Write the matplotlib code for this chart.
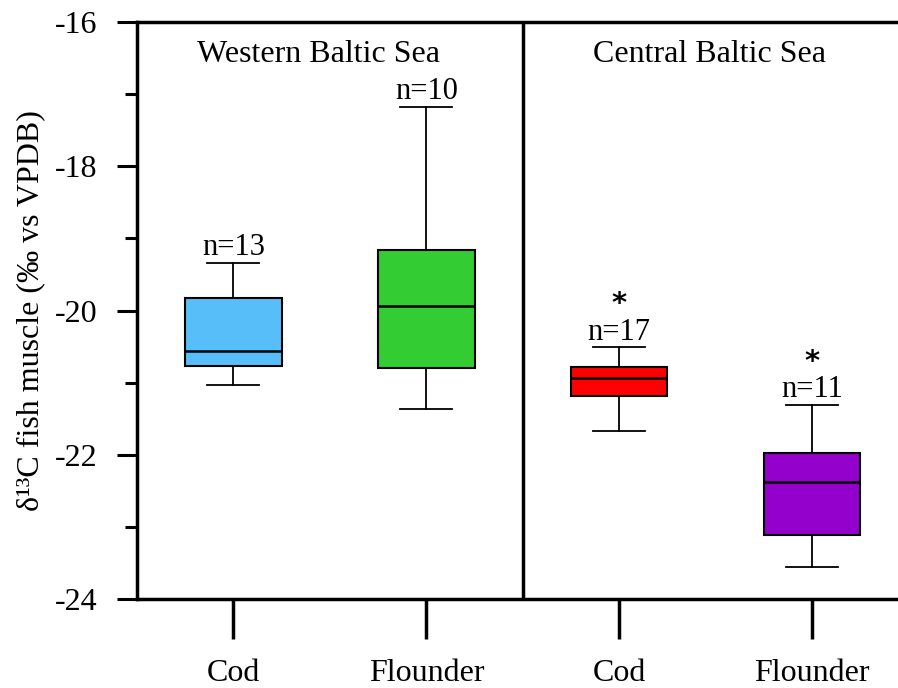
import matplotlib
matplotlib.use("Agg")
import matplotlib.pyplot as plt
from matplotlib.ticker import MultipleLocator

# Box-plot summaries of muscle delta-13C
groups = ["Cod", "Flounder", "Cod", "Flounder"]
whisker_low = [-21.03, -21.37, -21.67, -23.55]
quart1 = [-20.77, -20.80, -21.19, -23.11]
medians = [-20.56, -19.94, -20.94, -22.38]
quart3 = [-19.83, -19.16, -20.78, -21.98]
whisker_high = [-19.34, -17.18, -20.51, -21.31]
n_labels = ["n=13", "n=10", "n=17", "n=11"]
significant = [False, False, True, True]
colors = ["#58BEFA", "#33CC33", "#FF0000", "#9400CC"]
regions = ["Western Baltic Sea", "Central Baltic Sea"]
region_x = [0.44, 2.47]

plt.rcParams["font.family"] = ["Liberation Serif", "DejaVu Serif"]

fig = plt.figure(figsize=(8.98, 6.88), dpi=100)
ax = fig.add_axes([137 / 898, 1 - 599 / 688, 1 - 137 / 898, (599 - 22) / 688])

stats = []
for i in range(len(groups)):
    stats.append(dict(whislo=whisker_low[i], q1=quart1[i], med=medians[i],
                      q3=quart3[i], whishi=whisker_high[i], fliers=[]))

bp = ax.bxp(stats, positions=range(len(groups)), widths=0.5, patch_artist=True,
            showfliers=False,
            boxprops=dict(linewidth=1.5, edgecolor="black"),
            medianprops=dict(color="black", linewidth=1.8),
            whiskerprops=dict(color="black", linewidth=1.3),
            capprops=dict(color="black", linewidth=1.3),
            capwidths=0.27)
for patch, c in zip(bp["boxes"], colors):
    patch.set_facecolor(c)

# sample sizes sit on the upper cap, with significance markers above
for i, lab in enumerate(n_labels):
    ax.annotate(lab, (i, whisker_high[i]), xytext=(0, 0.5), textcoords="offset points",
                ha="center", va="bottom", fontsize=22)
    if significant[i]:
        ax.annotate("*", (i, whisker_high[i]), xytext=(0, 21), textcoords="offset points",
                    ha="center", va="bottom", fontsize=21, fontweight="bold",
                    family="DejaVu Sans")

for rx, name in zip(region_x, regions):
    ax.text(rx, -16.55, name, ha="center", va="baseline", fontsize=23)

ax.axvline(1.5, color="black", linewidth=2.5)

ax.set_xlim(-0.5, 3.445)
ax.set_ylim(-24, -16)
ax.yaxis.set_major_locator(MultipleLocator(2))
ax.yaxis.set_minor_locator(MultipleLocator(1))
ax.set_yticklabels([f"{v:.0f}" for v in ax.get_yticks()])
ax.set_xticks(range(len(groups)))
ax.set_xticklabels(groups)

for s in ["left", "top", "bottom"]:
    ax.spines[s].set_linewidth(2.5)
ax.spines["right"].set_visible(False)

ax.tick_params(axis="y", which="major", length=14.5, width=2.2, labelsize=23, pad=14)
ax.tick_params(axis="y", which="minor", length=8.5, width=2.2)
ax.tick_params(axis="x", which="major", length=29, width=2.5, labelsize=23, pad=14)

ax.set_ylabel("δ¹³C fish muscle (‰ vs VPDB)", fontsize=23, labelpad=7)

fig.savefig("out.png", dpi=100)
